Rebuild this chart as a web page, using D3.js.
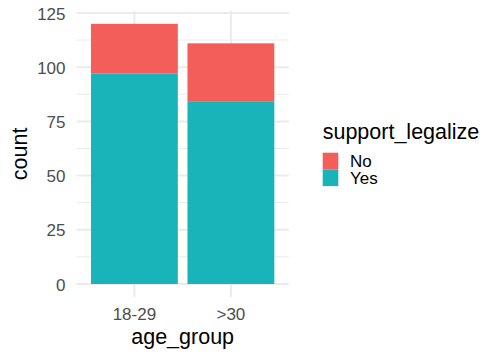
<!DOCTYPE html>
<html>
<head>
<meta charset="utf-8">
<script src="https://cdn.jsdelivr.net/npm/d3@7"></script>
<style>
  body { margin: 0; background: #fff; }
  text { font-family: "Liberation Sans", Arial, sans-serif; }
</style>
</head>
<body>
<svg class="plot" width="504" height="360"></svg>
<script>
  // data
  var ageGroups = ["18-29", ">30"]
  var yesCounts = [97, 84]
  var noCounts = [23, 27]
  var legendKeys = ["No", "Yes"]
  var yTicks = [0, 25, 50, 75, 100, 125]
  var yMinorTicks = [12.5, 37.5, 62.5, 87.5, 112.5]

  var colors = { "No": "#F35E5A", "Yes": "#19B4B9" }

  var panel = { left: 76.5, right: 288.8, top: 10.8, bottom: 297 }
  const svg = d3.select("svg.plot")

  var rows = ageGroups.map((g, i) => ({ group: g, Yes: yesCounts[i], No: noCounts[i] }))
  var stacked = d3.stack().keys(["Yes", "No"])(rows)

  const xScale = d3.scaleBand().domain(ageGroups)
    .range([panel.left, panel.right]).paddingInner(0.1).paddingOuter(0.15)
  const yScale = d3.scaleLinear().domain([-6, 126]).range([panel.bottom, panel.top])

  // gridlines
  svg.append("g").selectAll("line").data(yMinorTicks).join("line")
    .attr("x1", panel.left).attr("x2", panel.right)
    .attr("y1", d => yScale(d)).attr("y2", d => yScale(d))
    .attr("stroke", "#EBEBEB").attr("stroke-width", 1)
  svg.append("g").selectAll("line").data(yTicks).join("line")
    .attr("x1", panel.left).attr("x2", panel.right)
    .attr("y1", d => yScale(d)).attr("y2", d => yScale(d))
    .attr("stroke", "#EBEBEB").attr("stroke-width", 2)
  svg.append("g").selectAll("line").data(ageGroups).join("line")
    .attr("x1", d => xScale(d) + xScale.bandwidth() / 2).attr("x2", d => xScale(d) + xScale.bandwidth() / 2)
    .attr("y1", panel.top).attr("y2", panel.bottom)
    .attr("stroke", "#EBEBEB").attr("stroke-width", 2)

  // bars
  stacked.forEach(layer => {
    svg.append("g").selectAll("rect").data(layer).join("rect")
      .attr("x", d => xScale(d.data.group))
      .attr("width", xScale.bandwidth())
      .attr("y", d => yScale(d[1]))
      .attr("height", d => yScale(d[0]) - yScale(d[1]))
      .attr("fill", colors[layer.key])
  })

  // axes
  let leftAxis = d3.axisLeft(yScale).tickValues(yTicks).tickSize(0).tickPadding(11)
  let bottomAxis = d3.axisBottom(xScale).tickSize(0).tickPadding(0)
  var ly = svg.append("g")
    .attr("transform", "translate(" + panel.left + ",0)")
    .call(leftAxis)
  var lx = svg.append("g")
    .attr("transform", "translate(0," + panel.bottom + ")")
    .call(bottomAxis)
  ly.select(".domain").remove()
  lx.select(".domain").remove()
  ly.selectAll("text").attr("fill", "#4D4D4D").style("font-size", "17px")
    .style("font-family", "'Liberation Sans', Arial, sans-serif").attr("dy", "0.36em")
  lx.selectAll("text").attr("fill", "#4D4D4D").style("font-size", "17px")
    .style("font-family", "'Liberation Sans', Arial, sans-serif").attr("dy", "0").attr("y", 23)

  // axis titles
  svg.append("text")
    .attr("x", (panel.left + panel.right) / 2)
    .attr("y", 344.3)
    .attr("text-anchor", "middle")
    .style("font-size", "21.5px")
    .text("age_group")
  svg.append("text")
    .attr("transform", "translate(27," + (panel.top + panel.bottom) / 2 + ") rotate(-90)")
    .attr("text-anchor", "middle")
    .style("font-size", "21.5px")
    .text("count")

  // legend
  svg.append("text")
    .attr("x", 322.7)
    .attr("y", 139.3)
    .style("font-size", "21.5px")
    .text("support_legalize")
  legendKeys.forEach((k, i) => {
    svg.append("rect")
      .attr("x", 322.7)
      .attr("y", 152.7 + i * 16.7)
      .attr("width", 15.6)
      .attr("height", 16.7)
      .attr("fill", colors[k])
    svg.append("text")
      .attr("x", 350)
      .attr("y", 167.3 + i * 17)
      .style("font-size", "17px")
      .text(k)
  })
</script>
</body>
</html>
